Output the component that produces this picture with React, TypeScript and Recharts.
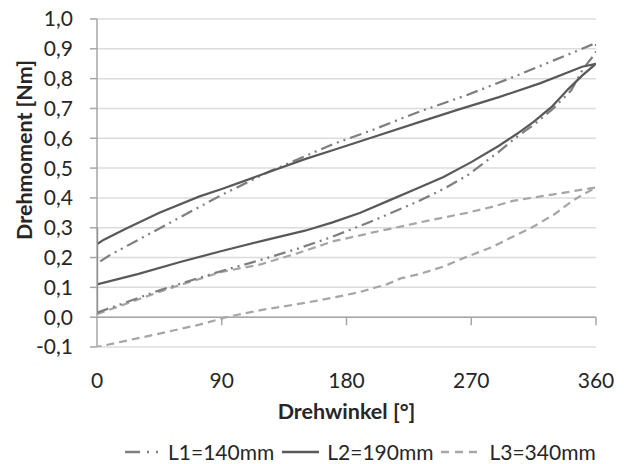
import React from 'react';
import { LineChart, Line, XAxis, YAxis, CartesianGrid, ReferenceLine, Legend, Label } from 'recharts';

const X_TICKS = [0, 90, 180, 270, 360];
const X_TICK_MARKS = [90, 180, 270, 360];
const Y_TICKS = [-0.1, 0, 0.1, 0.2, 0.3, 0.4, 0.5, 0.6, 0.7, 0.8, 0.9, 1.0];
const NAMES = ['L1=140mm', 'L2=190mm', 'L3=340mm'];
const X_TITLE = 'Drehwinkel [°]';
const Y_TITLE = 'Drehmoment [Nm]';

// L1 = 140 mm (dash-dot-dot)
const L1_LOWER = [
  { x: 0, y: 0.015 }, { x: 15, y: 0.04 }, { x: 30, y: 0.065 }, { x: 45, y: 0.09 },
  { x: 60, y: 0.112 }, { x: 90, y: 0.155 }, { x: 118, y: 0.192 }, { x: 145, y: 0.23 },
  { x: 170, y: 0.27 }, { x: 200, y: 0.325 }, { x: 230, y: 0.385 }, { x: 250, y: 0.43 },
  { x: 267, y: 0.475 }, { x: 290, y: 0.555 }, { x: 303, y: 0.605 }, { x: 315, y: 0.645 },
  { x: 328, y: 0.695 }, { x: 342, y: 0.76 }, { x: 351, y: 0.835 }, { x: 357, y: 0.87 },
  { x: 360, y: 0.89 },
];
const L1_UPPER = [
  { x: 360, y: 0.92 }, { x: 350, y: 0.9 }, { x: 330, y: 0.862 }, { x: 300, y: 0.805 },
  { x: 267, y: 0.745 }, { x: 233, y: 0.69 }, { x: 219, y: 0.665 }, { x: 200, y: 0.63 },
  { x: 170, y: 0.58 }, { x: 150, y: 0.54 }, { x: 125, y: 0.49 }, { x: 90, y: 0.41 },
  { x: 60, y: 0.335 }, { x: 30, y: 0.26 }, { x: 10, y: 0.21 }, { x: 0, y: 0.18 },
];

// L2 = 190 mm (solid)
const L2_LOWER = [
  { x: 0, y: 0.11 }, { x: 30, y: 0.145 }, { x: 60, y: 0.185 }, { x: 90, y: 0.222 },
  { x: 120, y: 0.257 }, { x: 150, y: 0.29 }, { x: 170, y: 0.318 }, { x: 190, y: 0.35 },
  { x: 210, y: 0.39 }, { x: 230, y: 0.43 }, { x: 250, y: 0.47 }, { x: 270, y: 0.52 },
  { x: 290, y: 0.575 }, { x: 303, y: 0.615 }, { x: 315, y: 0.655 }, { x: 328, y: 0.705 },
  { x: 340, y: 0.765 }, { x: 350, y: 0.81 }, { x: 360, y: 0.85 },
];
const L2_UPPER = [
  { x: 360, y: 0.85 }, { x: 350, y: 0.84 }, { x: 320, y: 0.785 }, { x: 290, y: 0.738 },
  { x: 260, y: 0.695 }, { x: 233, y: 0.655 }, { x: 200, y: 0.605 }, { x: 170, y: 0.56 },
  { x: 150, y: 0.53 }, { x: 120, y: 0.48 }, { x: 90, y: 0.43 }, { x: 74, y: 0.405 },
  { x: 45, y: 0.35 }, { x: 20, y: 0.295 }, { x: 5, y: 0.26 }, { x: 0, y: 0.245 },
  { x: 0, y: 0.3 }, { x: 0, y: 0.01 },
];

// L3 = 340 mm (dashed)
const L3_UPPER = [
  { x: 0, y: 0.01 }, { x: 15, y: 0.035 }, { x: 30, y: 0.06 }, { x: 45, y: 0.085 },
  { x: 60, y: 0.108 }, { x: 90, y: 0.152 }, { x: 118, y: 0.177 }, { x: 145, y: 0.215 },
  { x: 170, y: 0.254 }, { x: 200, y: 0.285 }, { x: 219, y: 0.304 }, { x: 240, y: 0.325 },
  { x: 267, y: 0.35 }, { x: 285, y: 0.37 }, { x: 300, y: 0.39 }, { x: 320, y: 0.405 },
  { x: 334, y: 0.415 }, { x: 350, y: 0.428 }, { x: 360, y: 0.435 },
];
const L3_LOWER = [
  { x: 360, y: 0.435 }, { x: 350, y: 0.41 }, { x: 343, y: 0.39 }, { x: 330, y: 0.345 },
  { x: 315, y: 0.304 }, { x: 300, y: 0.27 }, { x: 285, y: 0.235 }, { x: 267, y: 0.203 },
  { x: 250, y: 0.17 }, { x: 233, y: 0.145 }, { x: 219, y: 0.13 }, { x: 209, y: 0.11 },
  { x: 190, y: 0.085 }, { x: 170, y: 0.065 }, { x: 150, y: 0.048 }, { x: 120, y: 0.025 },
  { x: 95, y: 0.002 }, { x: 74, y: -0.025 }, { x: 45, y: -0.055 }, { x: 20, y: -0.08 },
  { x: 0, y: -0.1 },
];

const L1_DATA = [...L1_LOWER, ...L1_UPPER];
const L2_DATA = [...L2_LOWER, ...L2_UPPER];
const L3_DATA = [...L3_UPPER, ...L3_LOWER];

const FONT = "Lato, 'Open Sans', sans-serif";
const TEXT = '#262626';
const AXIS = '#a6a6a6';
const C1 = '#7f7f7f';
const C2 = '#595959';
const C3 = '#a6a6a6';
const DASH1 = '12 5 2 5 2 5';
const DASH3 = '8 5';

const fmt = (v: number) => v.toFixed(1).replace('.', ',');

const LegendContent = () => {
  const item = (name: string, color: string, dash: string | undefined, w: number) => (
    <div key={name} style={{ display: 'flex', alignItems: 'center', marginRight: 8 }}>
      <svg width={w} height={10} style={{ marginRight: 8 }}>
        <line x1={0} y1={5} x2={w} y2={5} stroke={color} strokeWidth={2.5} strokeDasharray={dash} />
      </svg>
      <span style={{ fontFamily: FONT, fontSize: 21, color: TEXT, lineHeight: '24px' }}>{name}</span>
    </div>
  );
  return (
    <div
      style={{
        display: 'flex',
        justifyContent: 'flex-start',
        paddingLeft: 125,
        paddingTop: 16,
        boxSizing: 'border-box',
        height: 40,
        alignItems: 'center',
      }}
    >
      {item(NAMES[0], C1, '15 7 2 7 2 7', 35)}
      {item(NAMES[1], C2, undefined, 37)}
      {item(NAMES[2], C3, '8 6', 40)}
    </div>
  );
};

export default function App() {
  return (
    <div style={{ position: 'absolute', left: 0, top: 0 }}>
      <LineChart width={624} height={464} margin={{ top: 19, right: 28, left: 0, bottom: 0 }}>
        <CartesianGrid vertical={false} stroke="#dcdcdc" strokeWidth={1.5} />
        <XAxis
          type="number"
          dataKey="x"
          domain={[0, 360]}
          ticks={X_TICKS}
          interval={0}
          axisLine={false}
          tickLine={false}
          tickSize={0}
          tickMargin={26}
          height={77}
          tick={{ fontSize: 21, fill: TEXT, fontFamily: FONT }}
          allowDataOverflow
        >
          <Label
            content={({ viewBox }: any) => (
              <text
                x={viewBox.x + viewBox.width / 2}
                y={viewBox.y + 72}
                textAnchor="middle"
                fontFamily={FONT}
                fontSize={21.5}
                fontWeight="bold"
                fill={TEXT}
              >
                {X_TITLE}
              </text>
            )}
          />
        </XAxis>
        <YAxis
          type="number"
          domain={[-0.1, 1.0]}
          ticks={Y_TICKS}
          interval={0}
          width={97}
          tickFormatter={fmt}
          axisLine={{ stroke: AXIS, strokeWidth: 1.5 }}
          tickLine={{ stroke: AXIS, strokeWidth: 1.5 }}
          tickSize={7}
          tickMargin={17}
          tick={{ fontSize: 21, fill: TEXT, fontFamily: FONT }}
          allowDataOverflow
        >
          <Label
            content={({ viewBox }: any) => (
              <text
                transform={`translate(${viewBox.x + 32}, ${viewBox.y + viewBox.height / 2 - 33}) rotate(-90)`}
                textAnchor="middle"
                fontFamily={FONT}
                fontSize={21.5}
                fontWeight="bold"
                fill={TEXT}
              >
                {Y_TITLE}
              </text>
            )}
          />
        </YAxis>
        <ReferenceLine y={0} stroke={AXIS} strokeWidth={1.5} />
        {X_TICK_MARKS.map((t) => (
          <ReferenceLine
            key={t}
            segment={[{ x: t, y: 0 }, { x: t, y: -0.027 }]}
            stroke={AXIS}
            strokeWidth={1.5}
          />
        ))}
        <Line data={L3_DATA} dataKey="y" name={NAMES[2]} type="linear" stroke={C3} strokeWidth={2.25} strokeDasharray={DASH3} dot={false} isAnimationActive={false} />
        <Line data={L1_DATA} dataKey="y" name={NAMES[0]} type="linear" stroke={C1} strokeWidth={2.25} strokeDasharray={DASH1} dot={false} isAnimationActive={false} />
        <Line data={L2_DATA} dataKey="y" name={NAMES[1]} type="linear" stroke={C2} strokeWidth={2.25} dot={false} isAnimationActive={false} />
        <Legend
          verticalAlign="bottom"
          content={<LegendContent />}
          wrapperStyle={{ left: 0, width: 624, height: 40 }}
        />
      </LineChart>
    </div>
  );
}
